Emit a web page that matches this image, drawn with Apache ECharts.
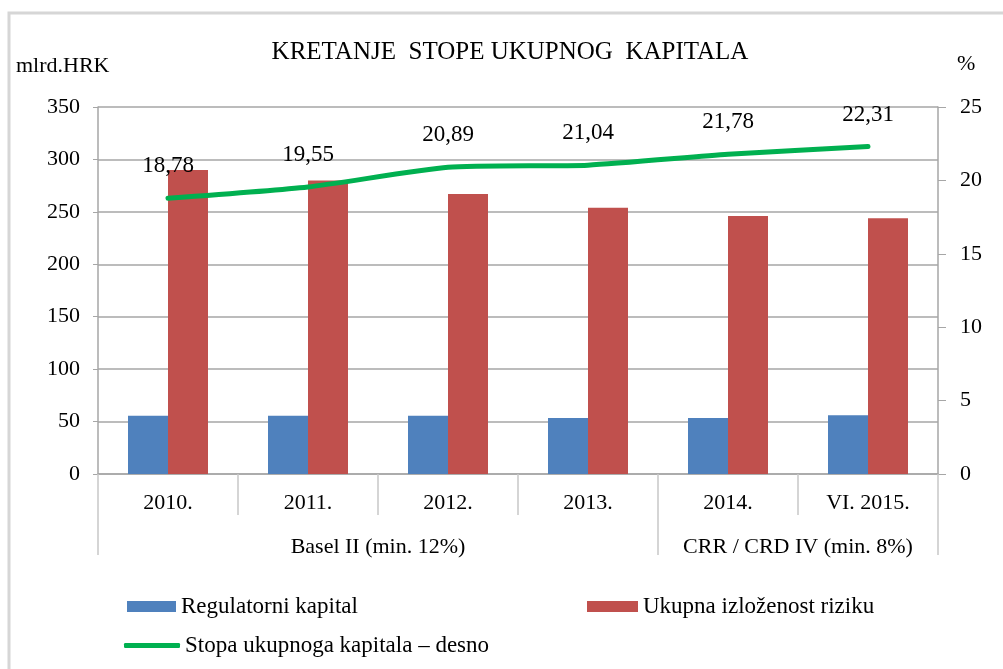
<!DOCTYPE html>
<html>
<head>
<meta charset="utf-8">
<script src="https://cdn.jsdelivr.net/npm/echarts@6/dist/echarts.min.js"></script>
<style>html,body{margin:0;padding:0;background:#fff;}#c{width:1003px;height:669px;}</style>
</head>
<body>
<div id="c"></div>
<script>
var categories = ['2010.', '2011.', '2012.', '2013.', '2014.', 'VI. 2015.'];
var regulatorniKapital = [55.5, 55.5, 55.5, 53.5, 53.5, 56];
var ukupnaIzlozenost = [290, 280, 267, 254, 246, 244];
var stopaKapitala = [18.78, 19.55, 20.89, 21.04, 21.78, 22.31];
var groupLabels = ['Basel II (min. 12%)', 'CRR / CRD IV (min. 8%)'];
var groupCenters = [2, 5];
var groupBounds = [0, 4, 6];
var leftTicks = [0, 350, 50];
var rightTicks = [0, 25, 5];

var FONT = '"Liberation Serif", "DejaVu Serif", serif';
var GREY = '#a6a6a6';
var chart = echarts.init(document.getElementById('c'));
chart.setOption({
  animation: false,
  backgroundColor: '#fff',
  textStyle: { fontFamily: FONT, color: '#000' },
  title: {
    text: 'KRETANJE  STOPE UKUPNOG  KAPITALA',
    left: 505, textAlign: 'center', top: 35,
    textStyle: { fontFamily: FONT, fontWeight: 'normal', fontSize: 25, color: '#000' }
  },
  graphic: [
    { type: 'rect', shape: { x: 9, y: 13, width: 1100, height: 700 }, style: { fill: 'none', stroke: '#d6d6d6', lineWidth: 3 }, silent: true },
    { type: 'text', left: 16, top: 55, style: { text: 'mlrd.HRK', font: '22px ' + FONT, fill: '#000' } },
    { type: 'text', left: 957, top: 53, style: { text: '%', font: '22px ' + FONT, fill: '#000' } }
  ],
  legend: [
    { data: [{ name: 'Regulatorni kapital', icon: 'rect' }], left: 127, top: 595, padding: 0, itemWidth: 49, itemHeight: 11,
      textStyle: { fontFamily: FONT, fontSize: 23, color: '#000' } },
    { data: [{ name: 'Ukupna izloženost riziku', icon: 'rect' }], left: 587, top: 595, padding: 0, itemWidth: 51, itemHeight: 11,
      textStyle: { fontFamily: FONT, fontSize: 23, color: '#000' } },
    { data: [{ name: 'Stopa ukupnoga kapitala – desno', icon: 'roundRect' }], left: 124, top: 634, padding: 0, itemWidth: 56, itemHeight: 5,
      textStyle: { fontFamily: FONT, fontSize: 23, color: '#000' } }
  ],
  grid: { left: 98, right: 65, top: 107, bottom: 195, containLabel: false },
  xAxis: [
    {
      type: 'category', data: categories, position: 'bottom',
      axisLine: { show: true, lineStyle: { color: GREY, width: 1.5 } },
      axisTick: { show: true, interval: 0, length: 41, lineStyle: { color: '#c8c8c8', width: 1.5 } },
      axisLabel: { interval: 0, margin: 18, fontFamily: FONT, fontSize: 22, color: '#000' }
    },
    {
      type: 'value', min: 0, max: 6, position: 'bottom',
      axisLine: { show: false },
      splitLine: { show: false },
      axisTick: { show: true, customValues: groupBounds, length: 81, lineStyle: { color: '#c8c8c8', width: 1.5 } },
      axisLabel: {
        show: true, customValues: groupCenters, margin: 62, fontFamily: FONT, fontSize: 22, color: '#000',
        formatter: function (v) { var i = groupCenters.indexOf(v); return i >= 0 ? groupLabels[i] : ''; }
      }
    }
  ],
  yAxis: [
    {
      type: 'value', min: leftTicks[0], max: leftTicks[1], interval: leftTicks[2],
      axisLine: { show: true, lineStyle: { color: GREY, width: 1.5 } },
      axisTick: { show: true, length: 5, lineStyle: { color: GREY } },
      splitLine: { show: true, lineStyle: { color: GREY, width: 1.5 } },
      axisLabel: { margin: 18, fontFamily: FONT, fontSize: 22, color: '#000' }
    },
    {
      type: 'value', min: rightTicks[0], max: rightTicks[1], interval: rightTicks[2], position: 'right',
      axisLine: { show: true, lineStyle: { color: GREY, width: 1.5 } },
      axisTick: { show: true, length: 8, lineStyle: { color: GREY } },
      splitLine: { show: false },
      axisLabel: { margin: 22, fontFamily: FONT, fontSize: 22, color: '#000' }
    }
  ],
  series: [
    { name: 'Regulatorni kapital', type: 'bar', data: regulatorniKapital, xAxisIndex: 0, yAxisIndex: 0,
      barWidth: 40, barGap: '0%', itemStyle: { color: '#4f81bd' } },
    { name: 'Ukupna izloženost riziku', type: 'bar', data: ukupnaIzlozenost, xAxisIndex: 0, yAxisIndex: 0,
      barWidth: 40, barGap: '0%', itemStyle: { color: '#c0504d' } },
    { name: 'Stopa ukupnoga kapitala – desno', type: 'line', data: stopaKapitala, xAxisIndex: 0, yAxisIndex: 1,
      smooth: 0.2, symbol: 'circle', symbolSize: 1, showSymbol: true,
      lineStyle: { color: '#00b050', width: 5, cap: 'round' }, itemStyle: { color: '#00b050' },
      label: { show: true, position: 'top', distance: 20, fontFamily: FONT, fontSize: 23, color: '#000',
        formatter: function (p) { return String(p.value).replace('.', ','); } },
      z: 5 }
  ]
});
</script>
</body>
</html>
